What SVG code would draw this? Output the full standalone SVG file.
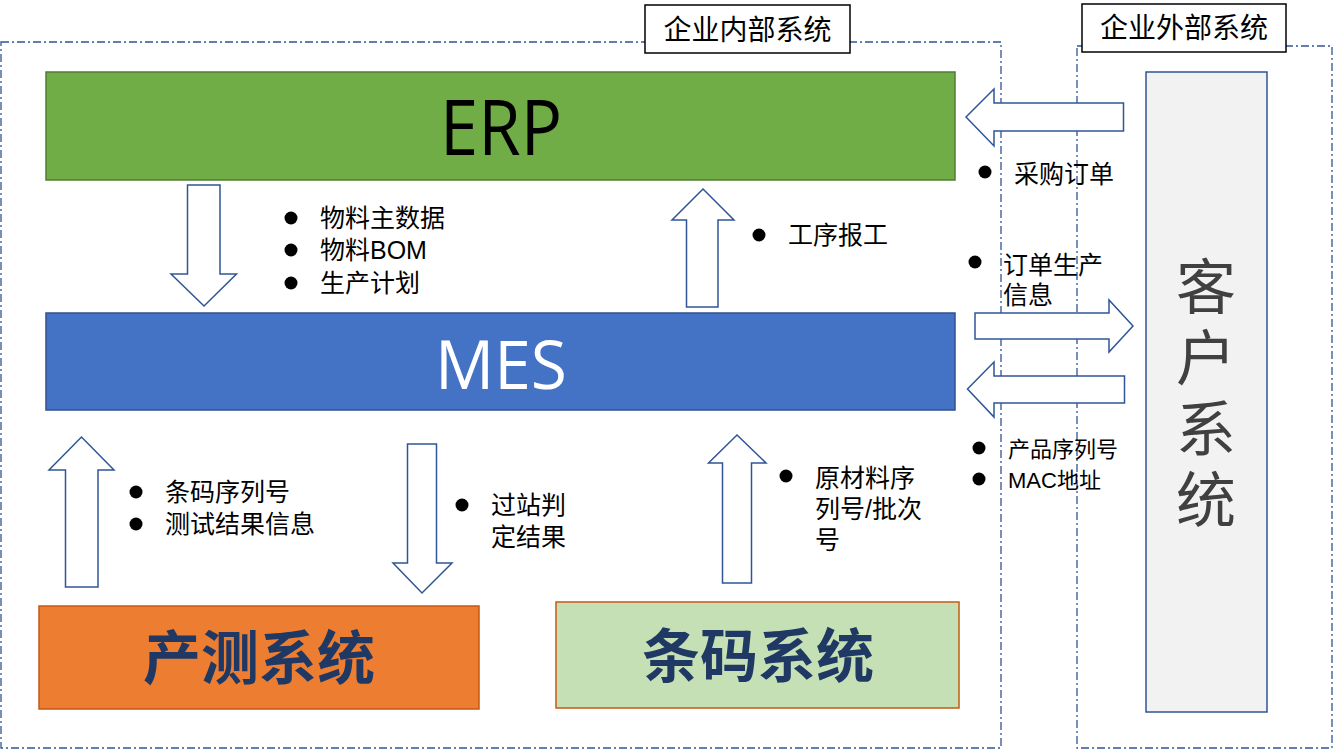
<svg xmlns="http://www.w3.org/2000/svg" width="1334" height="750" viewBox="0 0 1334 750">
<style>
.zone{fill:none;stroke:#2F5597;stroke-width:1.3;stroke-dasharray:8 3 2 3}
.lbl{fill:#fff;stroke:#000;stroke-width:1.5}
.arr{fill:#fff;stroke:#2F5597;stroke-width:1.5;stroke-linejoin:miter}
.t{font-family:"Liberation Sans","Noto Sans CJK SC",sans-serif;fill:#000}
.s25{font-size:25px}
.s22{font-size:22px}
.big{font-family:"Noto Sans CJK SC","Noto Sans",sans-serif;font-weight:bold;font-size:58px;fill:#1F3864;text-anchor:middle}
.dot{fill:#000}
</style>
<rect width="1334" height="750" fill="#fff"/>
<g id="zones">
<rect class="zone" x="1" y="42" width="1000" height="706"/>
<rect class="zone" x="1077" y="46" width="255" height="702"/>
</g>
<g id="label-internal">
<rect class="lbl" x="645" y="5" width="205" height="48"/>
<text class="t" x="747.5" y="40" font-size="28" text-anchor="middle">企业内部系统</text>
</g>
<g id="label-external">
<rect class="lbl" x="1082" y="4" width="204" height="48"/>
<text class="t" x="1184" y="38" font-size="28" text-anchor="middle">企业外部系统</text>
</g>
<g id="erp">
<rect x="46" y="72" width="909" height="108" fill="#70AD47" stroke="#507E32" stroke-width="1.5"/>
<text x="501" y="155" font-family="Open Sans,Noto Sans,sans-serif" font-size="76" textLength="122" lengthAdjust="spacingAndGlyphs" text-anchor="middle" fill="#000">ERP</text>
</g>
<g id="mes">
<rect x="46" y="313" width="909" height="97" fill="#4472C4" stroke="#2F528F" stroke-width="1.5"/>
<text x="501" y="389" font-family="Open Sans,Noto Sans,sans-serif" font-size="68" textLength="132" lengthAdjust="spacingAndGlyphs" text-anchor="middle" fill="#fff">MES</text>
</g>
<g id="chance">
<rect x="39" y="606" width="440" height="103" fill="#ED7D31" stroke="#C55A11" stroke-width="1.5"/>
<text class="big" x="259" y="679">产测系统</text>
</g>
<g id="barcode">
<rect x="556" y="602" width="403" height="106" fill="#C5E0B4" stroke="#C55A11" stroke-width="1.5"/>
<text class="big" x="758" y="677">条码系统</text>
</g>
<g id="customer">
<rect x="1146" y="72" width="121" height="640" fill="#F2F2F2" stroke="#2F5597" stroke-width="1.5"/>
<text x="1206" y="256" writing-mode="vertical-rl" letter-spacing="11" font-family="Noto Sans CJK SC,sans-serif" font-size="60" fill="#404040">客户系统</text>
</g>
<g id="connectors">
<path class="arr" d="M187.5,185 H220 V274 H236.5 L204,306 L171,274 H187.5 Z"/>
<path class="arr" d="M686.5,307 V220 H672 L703,189 L734,220 H718 V307 Z"/>
<path class="arr" d="M1123.5,103 H994 V89 L966,117 L994,146 V131 H1123.5 Z"/>
<path class="arr" d="M975,313 H1109 V300 L1133,326 L1109,352 V339 H975 Z"/>
<path class="arr" d="M1124.5,376 H994 V362 L967.5,389 L994,417 V403 H1124.5 Z"/>
<path class="arr" d="M65.5,587 V470 H49 L81.5,437 L114,470 H98 V587 Z"/>
<path class="arr" d="M407.5,444 H436.5 V563 H452 L422,593 L393,563 H407.5 Z"/>
<path class="arr" d="M722.5,583 V463 H708.5 L737,435 L766,463 H751.5 V583 Z"/>
</g>
<g id="labels">
<circle class="dot" cx="291" cy="218" r="6.5"/>
<circle class="dot" cx="291" cy="250" r="6.5"/>
<circle class="dot" cx="291" cy="283" r="6.5"/>
<text class="t s25" x="320" y="227">物料主数据</text>
<text class="t s25" x="320" y="259">物料BOM</text>
<text class="t s25" x="320" y="292">生产计划</text>

<circle class="dot" cx="759" cy="235" r="6.5"/>
<text class="t s25" x="788" y="244">工序报工</text>

<circle class="dot" cx="985" cy="172" r="6.5"/>
<text class="t s25" x="1014" y="183">采购订单</text>

<circle class="dot" cx="975" cy="262" r="6.5"/>
<text class="t s25" x="1003" y="274">订单生产</text>
<text class="t s25" x="1003" y="304">信息</text>

<circle class="dot" cx="979" cy="448" r="6.5"/>
<circle class="dot" cx="979" cy="479" r="6.5"/>
<text class="t s22" x="1008" y="457">产品序列号</text>
<text class="t s22" x="1008" y="488">MAC地址</text>

<circle class="dot" cx="786" cy="476" r="6.5"/>
<text class="t s25" x="815" y="487">原材料序</text>
<text class="t s25" x="815" y="518">列号/批次</text>
<text class="t s25" x="815" y="549">号</text>

<circle class="dot" cx="136" cy="492" r="6.5"/>
<circle class="dot" cx="136" cy="524" r="6.5"/>
<text class="t s25" x="165" y="501">条码序列号</text>
<text class="t s25" x="165" y="533">测试结果信息</text>

<circle class="dot" cx="462" cy="505" r="6.5"/>
<text class="t s25" x="491" y="514">过站判</text>
<text class="t s25" x="491" y="546">定结果</text>
</g>
</svg>
